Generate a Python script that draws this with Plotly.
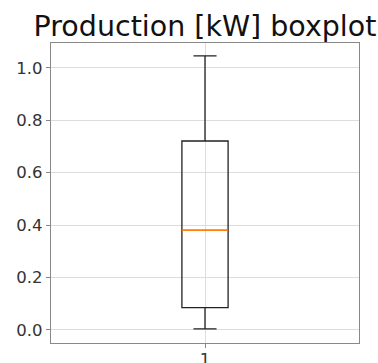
import plotly.graph_objects as go

# Box statistics
categories = [1]
q1 = [0.085]
median = [0.38]
q3 = [0.721]
lowerfence = [0.004]
upperfence = [1.046]
y_ticks = [0.0, 0.2, 0.4, 0.6, 0.8, 1.0]
x_tick_labels = ["1"]

box_width = 0.15

fig = go.Figure()
fig.add_trace(go.Box(
    x=categories,
    q1=q1, median=median, q3=q3,
    lowerfence=lowerfence, upperfence=upperfence,
    width=box_width,
    whiskerwidth=0.5,
    fillcolor="rgba(0,0,0,0)",
    line=dict(color="#222222", width=1.3),
    boxpoints=False,
    showlegend=False,
    hoverinfo="skip",
))
# orange median line
for c, m in zip(categories, median):
    fig.add_shape(type="line", xref="x", yref="y",
                  x0=c - box_width / 2, x1=c + box_width / 2, y0=m, y1=m,
                  line=dict(color="#ff7f0e", width=1.5))

fig.update_layout(
    width=378, height=363,
    margin=dict(l=51, r=19, t=43, b=20, autoexpand=False),
    paper_bgcolor="white", plot_bgcolor="white",
    font=dict(family="DejaVu Sans", color="#333333", size=16.5),
    title=dict(text="Production [kW] boxplot", x=0.5, xanchor="center",
               xref="paper", y=1, yanchor="bottom", yref="paper",
               pad=dict(b=7), font=dict(size=28.5, color="#111111")),
)
fig.update_xaxes(
    range=[0.5, 1.5], tickvals=categories, ticktext=x_tick_labels,
    showgrid=True, gridcolor="#dddddd", gridwidth=1,
    showline=True, linecolor="#888888", linewidth=1.2, mirror=True,
    ticks="outside", ticklen=4, tickcolor="#888888", zeroline=False,
    automargin=False, ticklabelstandoff=-3,
)
fig.update_yaxes(
    range=[-0.05, 1.095], tickvals=y_ticks, ticktext=[f"{v:.1f}" for v in y_ticks],
    showgrid=True, gridcolor="#dddddd", gridwidth=1,
    showline=True, linecolor="#888888", linewidth=1.2, mirror=True,
    ticks="outside", ticklen=4, tickcolor="#888888", zeroline=False,
    automargin=False,
)
fig.write_html("out.html")
